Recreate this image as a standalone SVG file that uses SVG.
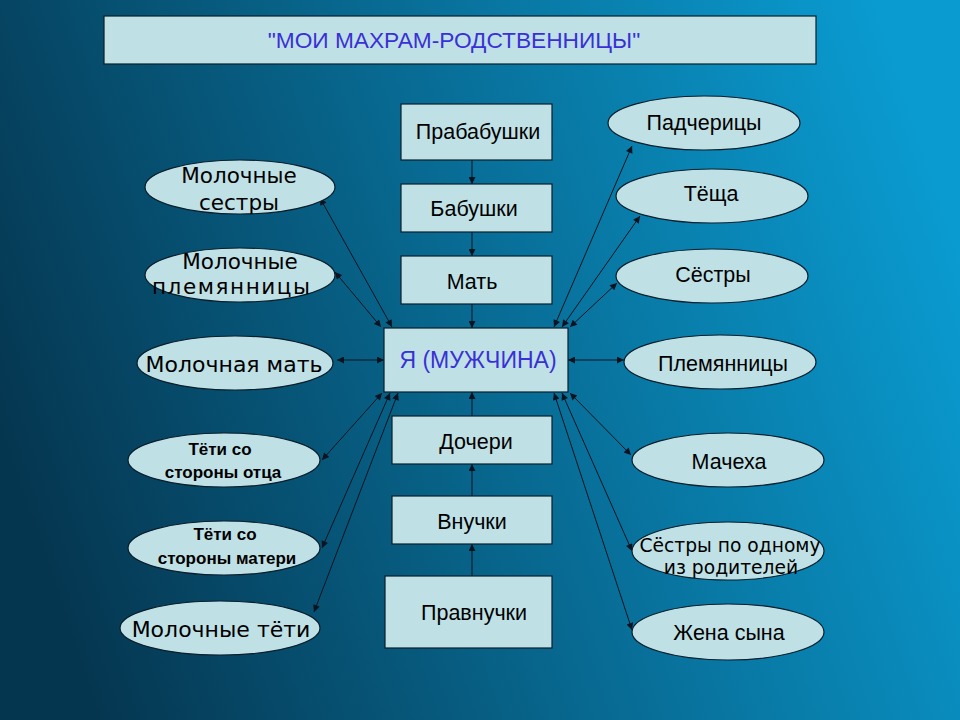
<svg xmlns="http://www.w3.org/2000/svg" width="960" height="720" viewBox="0 0 960 720">
<defs>
<linearGradient id="bg" x1="0" y1="0.6" x2="1" y2="0.35">
<stop offset="0" stop-color="#053650"/>
<stop offset="0.5" stop-color="#086a92"/>
<stop offset="1" stop-color="#0a9bd0"/>
</linearGradient>
<marker id="ah" viewBox="0 0 10 10" refX="10" refY="5" markerWidth="9" markerHeight="7" markerUnits="userSpaceOnUse" orient="auto-start-reverse">
<path d="M0,0 L10,5 L0,10 z" fill="#0b1420"/>
</marker>
<style>
.box{fill:#bfe1e5;stroke:#0b1e2c;stroke-width:1.2}
.ell{fill:#bfe1e5;stroke:#0b1e2c;stroke-width:1.2}
.t{font-family:"Liberation Sans",Arial,sans-serif;font-size:21.5px;fill:#000;text-anchor:middle}
.d{font-family:"DejaVu Sans",Verdana,sans-serif;font-size:21.5px;fill:#000;text-anchor:middle}
.s{font-family:"Liberation Sans",Arial,sans-serif;font-size:17px;font-weight:bold;fill:#000;text-anchor:middle}
.blue{fill:#3a30d8}
.c line{stroke:#0b1420;stroke-width:1;marker-end:url(#ah)}
.c line.b{marker-start:url(#ah)}
</style>
</defs>
<rect width="960" height="720" fill="url(#bg)"/>

<g id="title">
<rect class="box" x="104" y="16" width="712" height="48"/>
<text class="t blue" x="454" y="48" style="font-size:22.7px">"МОИ МАХРАМ-РОДСТВЕННИЦЫ"</text>
</g>

<g id="connectors" class="c">
<line x1="472" y1="160" x2="472" y2="184"/>
<line x1="472" y1="232" x2="472" y2="256"/>
<line x1="472" y1="304" x2="472" y2="328"/>
<line x1="472" y1="416" x2="472" y2="392"/>
<line x1="472" y1="496" x2="472" y2="464"/>
<line x1="472" y1="576" x2="472" y2="544"/>

<line class="b" x1="320" y1="198" x2="392" y2="327"/>
<line class="b" x1="335" y1="272" x2="381" y2="327"/>
<line class="b" x1="337" y1="360" x2="384" y2="360"/>
<line class="b" x1="322" y1="460" x2="382" y2="393"/>
<line class="b" x1="322" y1="548" x2="390" y2="393"/>
<line class="b" x1="314" y1="612" x2="398" y2="393"/>

<line class="b" x1="632" y1="146" x2="554" y2="327"/>
<line class="b" x1="640" y1="216" x2="562" y2="327"/>
<line class="b" x1="617" y1="283" x2="570" y2="327"/>
<line class="b" x1="568" y1="360" x2="624" y2="360"/>
<line class="b" x1="631" y1="455" x2="570" y2="393"/>
<line class="b" x1="632" y1="551" x2="562" y2="393"/>
<line class="b" x1="632" y1="630" x2="554" y2="393"/>
</g>

<g id="prababushki"><rect class="box" x="401" y="104" width="151" height="56"/><text class="t" x="478" y="139">Прабабушки</text></g>
<g id="babushki"><rect class="box" x="401" y="184" width="151" height="48"/><text class="t" x="474" y="216">Бабушки</text></g>
<g id="mat"><rect class="box" x="401" y="256" width="151" height="48"/><text class="t" x="472" y="289">Мать</text></g>
<g id="ya"><rect class="box" x="384" y="328" width="184" height="64"/><text class="t blue" x="478" y="368" style="font-size:23px">Я (МУЖЧИНА)</text></g>
<g id="docheri"><rect class="box" x="392" y="416" width="160" height="48"/><text class="t" x="476" y="449">Дочери</text></g>
<g id="vnuchki"><rect class="box" x="392" y="496" width="160" height="48"/><text class="t" x="472" y="529">Внучки</text></g>
<g id="pravnuchki"><rect class="box" x="385" y="576" width="167" height="72"/><text class="t" x="474" y="620">Правнучки</text></g>

<g id="mol-sestry"><ellipse class="ell" cx="240" cy="187" rx="95" ry="27"/><text class="d" x="239" y="183">Молочные</text><text class="d" x="239" y="210">сестры</text></g>
<g id="mol-plem"><ellipse class="ell" cx="240" cy="275" rx="95" ry="27"/><text class="d" x="240" y="269">Молочные</text><text class="d" x="231" y="294" textLength="158" lengthAdjust="spacing">племянницы</text></g>
<g id="mol-mat"><ellipse class="ell" cx="235" cy="363" rx="98" ry="27"/><text class="d" x="234" y="372" style="font-size:22px">Молочная мать</text></g>
<g id="teti-otca"><ellipse class="ell" cx="224" cy="460" rx="96" ry="27"/><text class="s" x="220" y="455">Тёти со</text><text class="s" x="223" y="478">стороны отца</text></g>
<g id="teti-materi"><ellipse class="ell" cx="224" cy="548" rx="96" ry="27"/><text class="s" x="225" y="540">Тёти со</text><text class="s" x="227" y="564">стороны матери</text></g>
<g id="mol-teti"><ellipse class="ell" cx="220" cy="628" rx="100" ry="27"/><text class="d" x="221" y="637" style="font-size:22px">Молочные тёти</text></g>

<g id="padcheritsy"><ellipse class="ell" cx="704" cy="123" rx="96" ry="27"/><text class="t" x="704" y="130">Падчерицы</text></g>
<g id="tescha"><ellipse class="ell" cx="712" cy="196" rx="96" ry="27"/><text class="t" x="711" y="201">Тёща</text></g>
<g id="syostry"><ellipse class="ell" cx="712" cy="276" rx="96" ry="27"/><text class="t" x="713" y="282">Сёстры</text></g>
<g id="plemyannitsy"><ellipse class="ell" cx="720" cy="362" rx="96" ry="27"/><text class="t" x="723" y="371">Племянницы</text></g>
<g id="macheha"><ellipse class="ell" cx="728" cy="460" rx="96" ry="27"/><text class="t" x="729" y="469">Мачеха</text></g>
<g id="syostry-odnomu"><ellipse class="ell" cx="728" cy="551" rx="96" ry="29"/><text class="d" x="730" y="552" style="font-size:18.7px">Сёстры по одному</text><text class="d" x="731" y="574" style="font-size:18.7px">из родителей</text></g>
<g id="zhena-syna"><ellipse class="ell" cx="728" cy="632" rx="96" ry="28"/><text class="t" x="729" y="640">Жена сына</text></g>
</svg>
